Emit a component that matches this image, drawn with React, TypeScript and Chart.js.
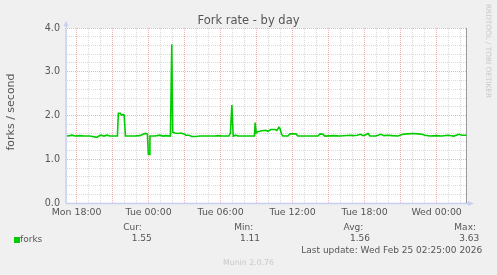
import React, { useEffect, useRef } from "react";
import { Chart, registerables } from "chart.js";

Chart.register(...registerables);

// hours since Mon 00:00
const timeHours = [
  17.2, 17.44, 17.61, 17.86, 18.28, 18.61, 19.11, 19.69, 19.86, 20.03, 20.28, 20.53, 20.78, 21.03, 21.4,
  21.48, 21.65, 21.73, 21.9, 21.96, 22.07, 22.28, 22.86, 23.28, 23.61, 23.78, 23.9, 23.98, 24.05, 24.11,
  24.53, 24.94, 25.19, 25.44, 25.82, 25.93, 26.01, 26.19, 26.44, 26.69, 26.94, 27.11, 27.36, 27.61, 27.94,
  28.28, 29.11, 29.53, 29.78, 30.11, 30.69, 30.82, 30.94, 31.05, 31.28, 31.44, 32.03, 32.82, 32.88, 32.97,
  33.11, 33.44, 33.78, 33.94, 34.19, 34.53, 34.69, 34.86, 34.94, 35.07, 35.19, 35.61, 35.78, 36.28, 36.44,
  37.44, 38.11, 38.28, 38.53, 38.69, 39.36, 39.94, 40.78, 41.03, 41.36, 41.69, 41.86, 42.11, 42.28, 42.44,
  42.94, 43.36, 43.61, 43.94, 44.28, 44.78, 45.19, 45.61, 46.03, 46.44, 46.78, 47.03, 47.44, 47.94, 48.44,
  48.94, 49.44, 49.86, 50.11, 50.48,
];
const forkRates = [
  1.53, 1.54, 1.55, 1.53, 1.54, 1.53, 1.53, 1.5, 1.53, 1.55, 1.53, 1.55, 1.53, 1.53, 1.53,
  2.05, 2.05, 2.01, 2.02, 2.01, 1.53, 1.53, 1.53, 1.54, 1.58, 1.59, 1.57, 1.11, 1.11, 1.53,
  1.53, 1.55, 1.53, 1.54, 1.53, 3.63, 1.62, 1.6, 1.59, 1.6, 1.58, 1.55, 1.55, 1.52, 1.52,
  1.53, 1.53, 1.53, 1.54, 1.53, 1.53, 1.6, 2.24, 1.53, 1.55, 1.53, 1.53, 1.53, 1.84, 1.6,
  1.63, 1.65, 1.66, 1.64, 1.68, 1.68, 1.66, 1.73, 1.71, 1.58, 1.53, 1.53, 1.58, 1.58, 1.53,
  1.53, 1.53, 1.58, 1.57, 1.53, 1.54, 1.53, 1.55, 1.54, 1.55, 1.57, 1.54, 1.56, 1.59, 1.53,
  1.53, 1.57, 1.54, 1.55, 1.54, 1.53, 1.57, 1.58, 1.59, 1.58, 1.57, 1.55, 1.53, 1.54, 1.53,
  1.55, 1.53, 1.57, 1.55, 1.55,
];

const xMinHour = 17.2;
const xMaxHour = 50.533;
const xLabelHours = [18, 24, 30, 36, 42, 48];
const xLabelTexts = ["Mon 18:00", "Tue 00:00", "Tue 06:00", "Tue 12:00", "Tue 18:00", "Wed 00:00"];
const yMin = 0;
const yMax = 4;

const statHeaders = ["Cur:", "Min:", "Avg:", "Max:"];
const statValues = ["1.55", "1.11", "1.56", "3.63"];
const seriesName = "forks";
const titleText = "Fork rate - by day";
const yTitleText = "forks / second";
const lastUpdateText = "Last update: Wed Feb 25 02:25:00 2026";
const footerText = "Munin 2.0.76";
const sideText = "RRDTOOL / TOBI OETIKER";

const W = 497;
const H = 275;
const FONT = "'DejaVu Sans', sans-serif";
const TEXT = "#555555";
const GREEN = "#00cc00";
const GRID_MINOR = "#dadada";
const GRID_MAJOR = "#f2b0b0";
const AXIS = "#c8d0f2";

const statHeaderRight = [141.7, 253.3, 363.3, 476];
const statValueRight = [151.7, 260, 370, 479.3];

const decorPlugin = {
  id: "decor",
  beforeDraw(chart: any) {
    const { ctx, chartArea: a } = chart;
    ctx.save();
    ctx.fillStyle = "#ffffff";
    ctx.fillRect(a.left, a.top, a.right - a.left, a.bottom - a.top);
    ctx.restore();
  },
  beforeDatasetsDraw(chart: any) {
    const { ctx, chartArea: a } = chart;
    ctx.save();
    ctx.strokeStyle = AXIS;
    ctx.lineWidth = 1.5;
    ctx.beginPath();
    ctx.moveTo(a.left - 1, a.bottom + 0.5);
    ctx.lineTo(a.left - 1, a.top - 2);
    ctx.moveTo(a.left - 1, a.bottom + 0.5);
    ctx.lineTo(a.right + 2, a.bottom + 0.5);
    ctx.stroke();
    ctx.fillStyle = AXIS;
    ctx.beginPath();
    ctx.moveTo(a.left - 3.5, a.top - 2);
    ctx.lineTo(a.left + 1.5, a.top - 2);
    ctx.lineTo(a.left - 1, a.top - 7);
    ctx.closePath();
    ctx.fill();
    ctx.beginPath();
    ctx.moveTo(a.right + 1, a.bottom - 2);
    ctx.lineTo(a.right + 1, a.bottom + 3);
    ctx.lineTo(a.right + 7, a.bottom + 0.5);
    ctx.closePath();
    ctx.fill();
    ctx.strokeStyle = "#999999";
    ctx.lineWidth = 1;
    ctx.beginPath();
    ctx.moveTo(a.right - 0.5, a.top);
    ctx.lineTo(a.right - 0.5, a.bottom);
    ctx.stroke();
    ctx.restore();
  },
};

function Txt(props: {
  children: React.ReactNode;
  left?: number;
  right?: number;
  cy: number;
  size: number;
  color?: string;
  center?: boolean;
}) {
  const { children, left, right, cy, size, color, center } = props;
  const style: React.CSSProperties = {
    position: "absolute",
    top: cy - size / 2,
    fontFamily: FONT,
    fontSize: size,
    lineHeight: `${size}px`,
    color: color || TEXT,
    whiteSpace: "nowrap",
  };
  if (center) {
    style.left = 0;
    style.width = W;
    style.textAlign = "center";
  } else if (right !== undefined) {
    style.right = W - right;
  } else {
    style.left = left;
  }
  return <div style={style}>{children}</div>;
}

export default function App() {
  const canvasRef = useRef<HTMLCanvasElement | null>(null);

  useEffect(() => {
    document.body.style.margin = "0";
    const canvas = canvasRef.current;
    if (!canvas) return;
    const points = timeHours.map((h, i) => ({ x: h, y: forkRates[i] }));
    const chart = new Chart(canvas, {
      type: "line",
      data: {
        datasets: [
          {
            label: seriesName,
            data: points,
            borderColor: GREEN,
            backgroundColor: GREEN,
            borderWidth: 1.6,
            pointRadius: 0,
            tension: 0,
            fill: false,
          },
        ],
      },
      options: {
        animation: false,
        responsive: false,
        devicePixelRatio: 1,
        events: [],
        layout: { padding: { left: 0, top: 28, right: 30, bottom: 0 } },
        plugins: {
          legend: { display: false },
          title: { display: false },
          tooltip: { enabled: false },
        },
        scales: {
          x: {
            type: "linear",
            min: xMinHour,
            max: xMaxHour,
            afterBuildTicks: (scale: any) => {
              const t = [];
              for (let h = Math.ceil(xMinHour); h <= Math.floor(xMaxHour); h++) t.push({ value: h });
              scale.ticks = t;
            },
            afterFit: (scale: any) => {
              scale.height = 72;
            },
            ticks: {
              autoSkip: false,
              maxRotation: 0,
              padding: 4,
              color: TEXT,
              font: { family: FONT, size: 9.4 },
              callback: (v: any) => {
                const i = xLabelHours.indexOf(Number(v));
                return i >= 0 ? xLabelTexts[i] : "";
              },
            },
            grid: {
              drawTicks: false,
              lineWidth: 1,
              color: (c: any) => {
                const v = c.tick ? c.tick.value : 0;
                return v % 3 === 0 ? GRID_MAJOR : GRID_MINOR;
              },
            },
            border: { display: false, dash: [1, 1] },
          },
          y: {
            type: "linear",
            min: yMin,
            max: yMax,
            afterBuildTicks: (scale: any) => {
              const t = [];
              for (let k = 1; k <= 20; k++) t.push({ value: Math.round(k * 2) / 10 });
              scale.ticks = [{ value: 0 }, ...t];
            },
            afterFit: (scale: any) => {
              scale.width = 67;
            },
            ticks: {
              autoSkip: false,
              padding: 7,
              color: TEXT,
              font: { family: FONT, size: 9.6 },
              callback: (v: any) => {
                const n = Number(v);
                return Math.abs(n - Math.round(n)) < 1e-6 ? n.toFixed(1) : "";
              },
            },
            grid: {
              drawTicks: false,
              lineWidth: 1,
              color: (c: any) => {
                const v = c.tick ? c.tick.value : 0;
                if (v === 0) return "rgba(0,0,0,0)";
                return Math.abs(v - Math.round(v)) < 1e-6 ? GRID_MAJOR : GRID_MINOR;
              },
            },
            border: { display: false, dash: [1, 1] },
          },
        },
      } as any,
      plugins: [decorPlugin],
    });
    return () => chart.destroy();
  }, []);

  return (
    <div style={{ position: "relative", width: W, height: H, background: "#f0f0f0", overflow: "hidden" }}>
      <canvas ref={canvasRef} width={W} height={H} style={{ position: "absolute", left: 0, top: 0, display: "block" }} />
      <Txt center cy={21} size={11.5}>{titleText}</Txt>
      <div
        style={{
          position: "absolute",
          left: 11 - 60,
          top: 112 - 6,
          width: 120,
          height: 12,
          lineHeight: "12px",
          textAlign: "center",
          fontFamily: FONT,
          fontSize: 11,
          color: TEXT,
          transform: "rotate(-90deg)",
          transformOrigin: "60px 6px",
          whiteSpace: "nowrap",
        }}
      >
        {yTitleText}
      </div>
      <div
        style={{
          position: "absolute",
          left: 487.5 - 60,
          top: 51 - 4,
          width: 120,
          height: 8,
          lineHeight: "8px",
          textAlign: "center",
          fontFamily: FONT,
          fontSize: 7.3,
          color: "#c8c8c8",
          transform: "rotate(90deg)",
          transformOrigin: "60px 4px",
          whiteSpace: "nowrap",
        }}
      >
        {sideText}
      </div>
      <div style={{ position: "absolute", left: 14, top: 236.5, width: 6, height: 6, background: GREEN }} />
      <Txt left={20} cy={239.3} size={9}>{seriesName}</Txt>
      {statHeaders.map((s, i) => (
        <Txt key={"h" + i} right={statHeaderRight[i]} cy={227.3} size={9}>{s}</Txt>
      ))}
      {statValues.map((s, i) => (
        <Txt key={"v" + i} right={statValueRight[i]} cy={238.7} size={9}>{s}</Txt>
      ))}
      <Txt right={482.3} cy={250.7} size={9}>{lastUpdateText}</Txt>
      <Txt center cy={262.7} size={7.8} color="#c8c8c8">{footerText}</Txt>
    </div>
  );
}
